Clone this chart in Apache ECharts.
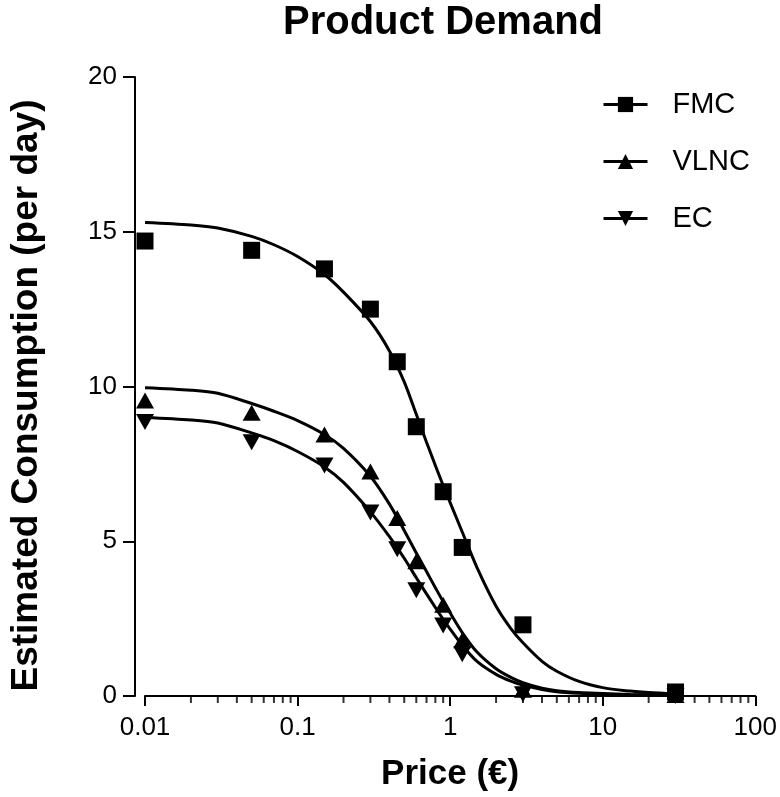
<!DOCTYPE html>
<html>
<head>
<meta charset="utf-8">
<script src="https://cdn.jsdelivr.net/npm/echarts@6/dist/echarts.min.js"></script>
<style>html,body{margin:0;padding:0;background:#fff}#c{width:780px;height:797px}</style>
</head>
<body>
<div id="c"></div>
<script>
// Observed data points
const prices = [0.01, 0.05, 0.15, 0.3, 0.45, 0.6, 0.9, 1.2, 3, 30];
const fmcPoints  = [14.7, 14.4, 13.8, 12.5, 10.8, 8.7, 6.6, 4.8, 2.3, 0.13];
const vlncPoints = [9.55, 9.15, 8.45, 7.25, 5.75, 4.35, 2.95, 1.8, 0.2, 0.03];
const ecPoints   = [8.85, 8.2, 7.45, 5.93, 4.74, 3.42, 2.28, 1.35, 0.06, 0.0];

// Fitted curves
const curvePrices = [0.01, 0.02, 0.03, 0.05, 0.07, 0.1, 0.15, 0.2, 0.3, 0.4, 0.5, 0.6, 0.7, 0.8, 0.9, 1, 1.2, 1.5, 2, 2.5, 3, 4, 5, 7, 10, 15, 20, 30];
const fmcCurve  = [15.3, 15.22, 15.12, 14.85, 14.58, 14.2, 13.62, 13.05, 12.1, 11.15, 10.15, 9.1, 8.2, 7.45, 6.8, 6.25, 5.3, 4.15, 2.9, 2.18, 1.72, 1.12, 0.8, 0.47, 0.27, 0.16, 0.11, 0.07];
const vlncCurve = [9.96, 9.88, 9.78, 9.45, 9.2, 8.9, 8.45, 8.0, 7.1, 6.2, 5.35, 4.62, 4.02, 3.5, 3.05, 2.68, 2.05, 1.42, 0.88, 0.6, 0.43, 0.25, 0.17, 0.11, 0.08, 0.05, 0.04, 0.03];
const ecCurve   = [9.0, 8.92, 8.82, 8.5, 8.25, 7.9, 7.4, 6.9, 5.95, 5.15, 4.45, 3.82, 3.3, 2.86, 2.48, 2.16, 1.64, 1.12, 0.7, 0.48, 0.35, 0.21, 0.14, 0.09, 0.06, 0.04, 0.03, 0.02];

const seriesNames = ['FMC', 'VLNC', 'EC'];
const yTicks = [0, 5, 10, 15, 20];
const decades = [0.01, 0.1, 1, 10];
const minorMultipliers = [2, 3, 4, 5, 6, 7, 8, 9];

const minorTicks = [];
decades.forEach(d => minorMultipliers.forEach(m => minorTicks.push([+(d * m).toPrecision(3), 0])));

function pairs(xs, ys) { return xs.map((x, i) => [x, ys[i]]); }

const FONT = 'Liberation Sans, Arial, sans-serif';
const chart = echarts.init(document.getElementById('c'), null, {renderer: 'canvas'});

const symbols = {FMC: ['rect', 0, [17, 17]], VLNC: ['triangle', 0, [18, 16]], EC: ['triangle', 180, [18, 16]]};
const curves = {FMC: fmcCurve, VLNC: vlncCurve, EC: ecCurve};
const points = {FMC: fmcPoints, VLNC: vlncPoints, EC: ecPoints};

const series = [];
seriesNames.forEach(n => {
  series.push({
    name: n, type: 'line', smooth: 0.3, showSymbol: false,
    symbol: symbols[n][0], symbolRotate: symbols[n][1],
    data: pairs(curvePrices, curves[n]),
    lineStyle: {color: '#000', width: 3},
    itemStyle: {color: '#000'},
    z: 3, animation: false, silent: true
  });
});
seriesNames.forEach(n => {
  series.push({
    name: n, type: 'scatter', clip: false,
    symbol: symbols[n][0], symbolRotate: symbols[n][1], symbolSize: symbols[n][2],
    data: pairs(prices, points[n]),
    itemStyle: {color: '#000', opacity: 1},
    z: 4, animation: false, silent: true
  });
});
series.push({
  type: 'scatter', clip: false, silent: true, animation: false,
  symbol: 'rect', symbolSize: [2, 6], symbolOffset: [0, 4],
  data: minorTicks, itemStyle: {color: '#000'}, z: 2
});

chart.setOption({
  animation: false,
  backgroundColor: '#fff',
  title: {
    text: 'Product Demand', left: 443, top: 3, textAlign: 'center', padding: 0,
    textStyle: {fontFamily: FONT, fontWeight: 'bold', fontSize: 40, color: '#000'}
  },
  legend: {
    orient: 'vertical', left: 597, top: 85, itemGap: 28,
    itemWidth: 44, itemHeight: 19,
    data: seriesNames,
    lineStyle: {width: 3},
    textStyle: {fontFamily: FONT, fontSize: 29, color: '#000', padding: [0, 0, 0, 20]}
  },
  grid: {left: 141, right: 24, top: 77, bottom: 95, containLabel: false},
  xAxis: {
    type: 'log', logBase: 10, min: 0.01, max: 100,
    name: 'Price (€)', nameLocation: 'middle', nameGap: 61,
    nameTextStyle: {fontFamily: FONT, fontWeight: 'bold', fontSize: 35, color: '#000'},
    axisLine: {show: true, onZero: false, lineStyle: {color: '#000', width: 2}},
    axisTick: {show: true, length: 10, lineStyle: {color: '#000', width: 2}},
    axisLabel: {fontFamily: FONT, fontSize: 26, color: '#000', margin: 19,
      formatter: v => String(v)},
    splitLine: {show: false}
  },
  yAxis: {
    type: 'value', min: 0, max: 20, interval: 5, offset: 10,
    name: 'Estimated Consumption (per day)', nameLocation: 'middle', nameGap: 90,
    nameTextStyle: {fontFamily: FONT, fontWeight: 'bold', fontSize: 37, color: '#000', padding: [0, 18, 0, 0]},
    axisLine: {show: true, lineStyle: {color: '#000', width: 2}},
    axisTick: {show: true, length: 12, lineStyle: {color: '#000', width: 2}},
    axisLabel: {fontFamily: FONT, fontSize: 26, color: '#000', margin: 18,
      formatter: v => yTicks.includes(v) ? String(v) : ''},
    splitLine: {show: false}
  },
  series: series
});
</script>
</body>
</html>
